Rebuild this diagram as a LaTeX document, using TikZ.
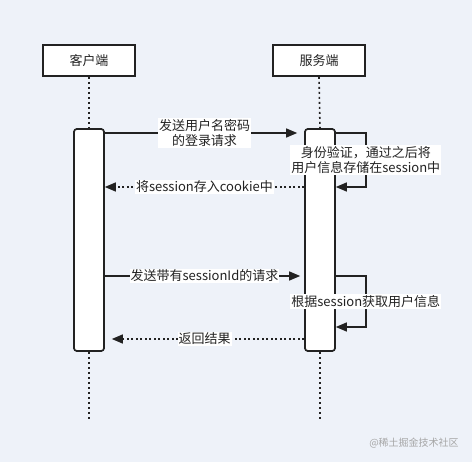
\documentclass[tikz,border=0pt]{standalone}
\usepackage{fontspec}
\setmainfont{Noto Sans CJK SC}
\usetikzlibrary{arrows.meta}
\definecolor{bgcol}{HTML}{EEF2F9}
\definecolor{inkcol}{HTML}{222222}
\begin{document}
\begin{tikzpicture}[x=1pt, y=-1pt,
  actor/.style={draw=inkcol, line width=1.6pt, fill=white, minimum width=92pt, minimum height=31pt, inner sep=0pt, font=\fontsize{13}{15}\selectfont, text=inkcol},
  actbar/.style={draw=inkcol, line width=1.6pt, fill=white, rounded corners=3pt, minimum width=30pt, minimum height=222pt, inner sep=0pt},
  life/.style={draw=inkcol, line width=1.6pt, dash pattern=on 2pt off 3pt},
  msg/.style={draw=inkcol, line width=1.4pt, -{Triangle[length=11pt,width=9pt]}},
  reply/.style={msg, dash pattern=on 2pt off 2.5pt},
  lbl/.style={fill=white, inner sep=1pt, align=center, font=\fontsize{13}{15}\selectfont, text=inkcol}]
\fill[bgcol] (0,0) rectangle (472,462);
\useasboundingbox (0,0) rectangle (472,462);
% actors
\node[actor] (client) at (89,60.5) {客户端};
\node[actor] (server) at (319,60.5) {服务端};
% activations
\node[actbar] (cbar) at (89,240) {};
\node[actbar] (sbar) at (320,240) {};
\coordinate (cend) at (89,420);
\coordinate (send) at (320,420);
\draw[life] (client.south) -- (cbar.north);
\draw[life] (server.south) -- (sbar.north);
\draw[life] (cbar.south) -- (cend);
\draw[life] (sbar.south) -- (send);
\node[actbar] at (cbar) {};
\node[actbar] at (sbar) {};
% message rows
\coordinate (m1) at (0,133);
\coordinate (m2) at (0,187);
\coordinate (m3) at (0,276);
\coordinate (m4) at (0,327);
\coordinate (m5) at (0,339);
% login
\draw[msg, shorten >=7pt] (cbar.east |- m1) -- node[lbl] {发送用户名密码\\的登录请求} (sbar.west |- m1);
\draw[msg] (sbar.east |- m1) -- ++(30,0) -- node[lbl] {身份验证，通过之后将\\用户信息存储在session中} ++(0,54) -- (sbar.east |- m2);
\draw[reply] (sbar.west |- m2) -- node[lbl] {将session存入cookie中} (cbar.east |- m2);
% request with session
\draw[msg, shorten >=4pt] (cbar.east |- m3) -- node[lbl] {发送带有sessionId的请求} (sbar.west |- m3);
\draw[msg] (sbar.east |- m3) -- ++(30,0) -- node[lbl] {根据session获取用户信息} ++(0,51) -- (sbar.east |- m4);
\draw[reply, shorten >=7pt] (sbar.west |- m5) -- node[lbl] {返回结果} (cbar.east |- m5);
% watermark
\node[font=\fontsize{10}{12}\selectfont, text=black!35] (mark) at (414,443) {@稀土掘金技术社区};
\end{tikzpicture}
\end{document}
